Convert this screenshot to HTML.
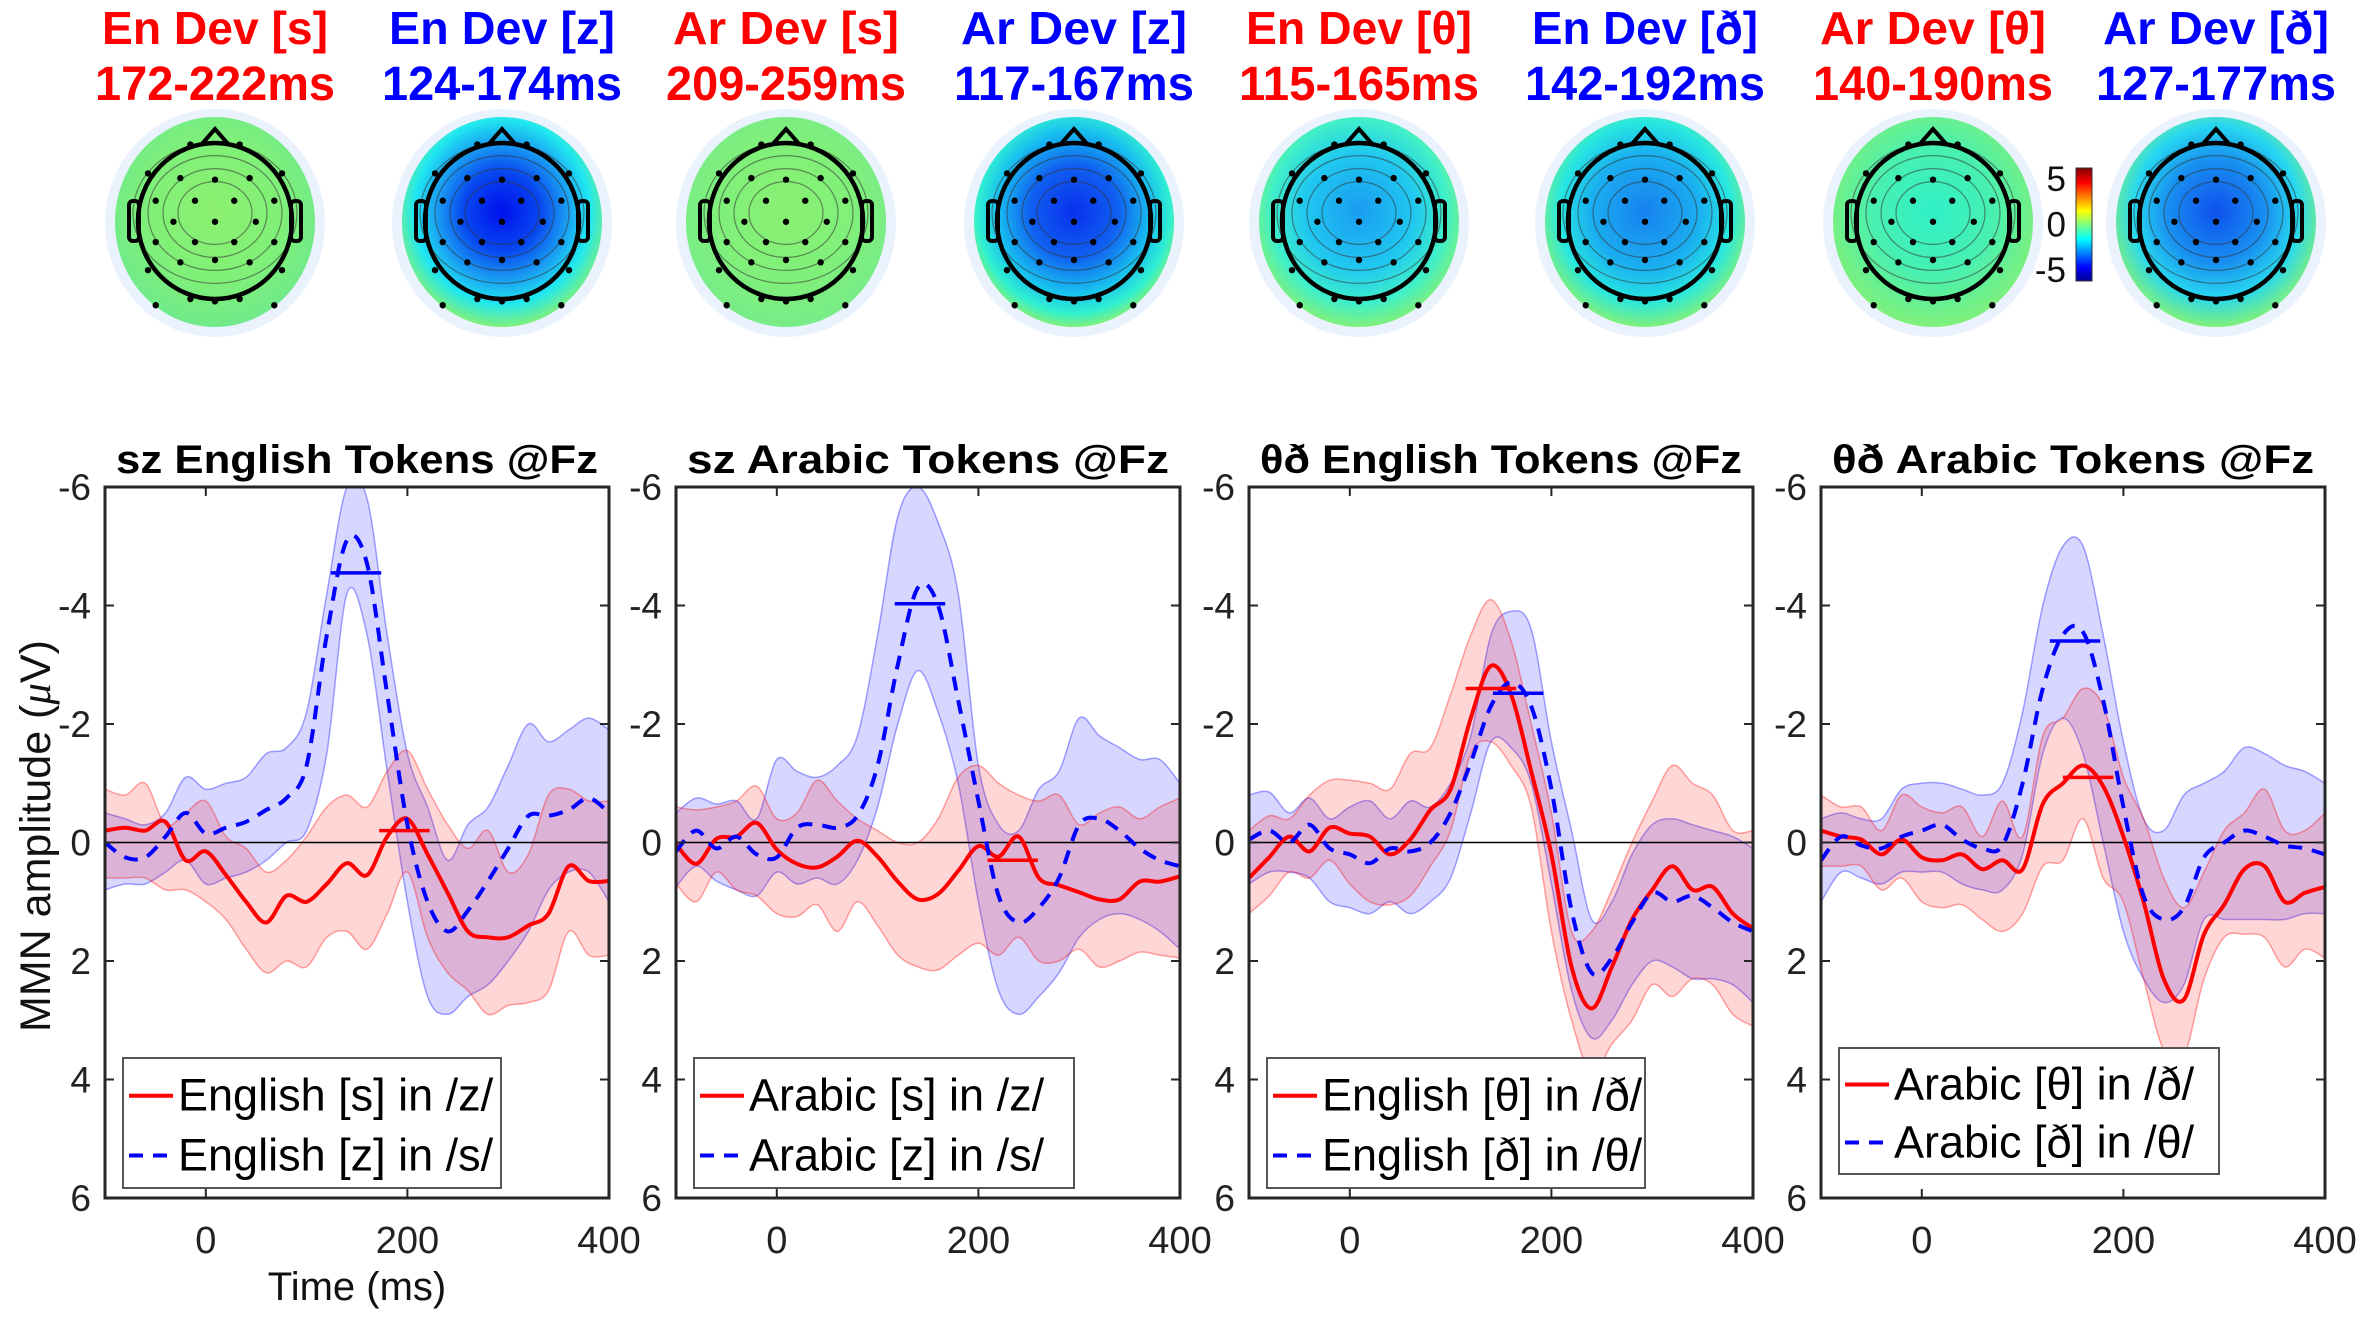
<!DOCTYPE html>
<html><head><meta charset="utf-8"><style>
html,body{margin:0;padding:0;background:#fff;}
svg{display:block;font-family:"Liberation Sans",Arial,sans-serif;}
</style></head><body>
<svg id="fig" width="2362" height="1320" viewBox="0 0 2362 1320" xmlns="http://www.w3.org/2000/svg">
<defs id="defs"></defs>
<g id="topos"></g>
<g id="colorbar"></g>
<g id="panels"></g>
<text x="0" y="0" transform="translate(50,836) rotate(-90)" text-anchor="middle" font-size="43" fill="#111">MMN amplitude (<tspan font-style="italic" font-family="Liberation Serif">μ</tspan>V)</text>
<text x="357" y="1300" text-anchor="middle" font-size="40" fill="#111">Time (ms)</text>
</svg>
<script>
const times=[-100,-80,-60,-40,-20,0,20,40,60,80,100,120,140,160,180,200,220,240,260,280,300,320,340,360,380,400];
// Panel 1: sz English
const p1RedMean=[-0.2,-0.25,-0.2,-0.35,0.3,0.15,0.55,1.0,1.35,0.9,1.0,0.7,0.35,0.55,-0.1,-0.4,0.2,0.85,1.5,1.6,1.6,1.4,1.2,0.4,0.65,0.65];
const p1RedUp=[-0.9,-0.8,-1.0,-0.3,-0.5,-0.7,-0.1,0.1,0.5,0.3,-0.1,-0.6,-0.8,-0.6,-1.2,-1.55,-0.9,-0.3,0.1,-0.2,0.5,0.2,-0.8,-0.9,-0.7,-0.7];
const p1RedLo=[0.6,0.6,0.6,0.8,0.8,1.0,1.3,1.8,2.2,2.0,2.1,1.6,1.5,1.8,1.2,0.5,1.6,2.2,2.5,2.9,2.75,2.7,2.5,1.5,1.9,1.9];
const p1BlueMean=[0.0,0.25,0.25,-0.1,-0.5,-0.15,-0.25,-0.35,-0.55,-0.75,-1.3,-3.5,-5.1,-4.7,-2.5,-0.3,1.0,1.5,1.15,0.65,0.1,-0.45,-0.45,-0.55,-0.75,-0.5];
const p1BlueUp=[-0.5,-0.4,-0.3,-0.5,-1.1,-0.9,-1.0,-1.1,-1.5,-1.6,-2.2,-4.2,-6.0,-5.8,-3.5,-1.5,-0.6,0.3,-0.3,-0.6,-1.3,-2.0,-1.7,-1.9,-2.1,-1.9];
const p1BlueLo=[0.8,0.7,0.7,0.5,0.3,0.7,0.6,0.5,0.3,0.0,-0.2,-1.5,-4.2,-3.5,-1.2,1.0,2.6,2.9,2.6,2.4,2.0,1.5,0.8,0.5,0.5,1.0];
// Panel 2: sz Arabic
const p2RedMean=[0.03,0.36,-0.06,-0.1,-0.33,0.12,0.36,0.42,0.24,-0.03,0.24,0.66,0.96,0.87,0.48,0.06,0.24,-0.1,0.6,0.72,0.84,0.96,0.96,0.66,0.66,0.57];
const p2RedUp=[-0.6,-0.55,-0.6,-0.7,-0.95,-0.4,-0.5,-1.05,-0.7,-0.4,-0.2,0.0,0.0,-0.4,-1.1,-1.3,-1.0,-0.8,-0.7,-0.8,-0.3,-0.5,-0.6,-0.4,-0.6,-0.75];
const p2RedLo=[0.7,1.0,0.5,0.8,0.9,1.2,1.25,1.05,1.5,1.0,1.4,1.9,2.1,2.15,1.9,1.7,1.9,1.6,2.0,2.0,1.8,2.1,2.0,1.85,1.9,1.95];
const p2BlueMean=[0.15,-0.2,0.1,-0.1,0.2,0.25,-0.25,-0.3,-0.25,-0.45,-1.3,-3.0,-4.3,-4.0,-2.4,-0.7,0.9,1.35,1.1,0.6,-0.3,-0.4,-0.2,0.1,0.3,0.4];
const p2BlueUp=[-0.5,-0.75,-0.65,-0.7,-0.4,-1.4,-1.2,-1.1,-1.3,-1.8,-3.5,-5.5,-6.0,-5.4,-4.2,-1.3,-0.3,-0.2,-0.9,-1.2,-2.1,-1.8,-1.6,-1.4,-1.4,-1.0];
const p2BlueLo=[0.75,0.4,0.65,0.8,0.9,0.5,0.7,0.6,0.7,0.3,-0.6,-2.0,-2.9,-2.2,-1.0,1.0,2.5,2.9,2.6,2.2,1.6,1.3,1.2,1.3,1.5,1.8];
// Panel 3: theta/eth English
const p3RedMean=[0.6,0.25,-0.1,0.15,-0.25,-0.15,-0.1,0.2,-0.05,-0.55,-0.9,-2.1,-2.98,-2.5,-1.2,0.2,2.1,2.8,2.1,1.3,0.8,0.4,0.8,0.75,1.2,1.45];
const p3RedUp=[-0.2,-0.45,-0.4,-0.8,-1.05,-1.05,-1.0,-0.9,-1.5,-1.6,-2.5,-3.5,-4.1,-3.4,-2.0,-0.5,1.5,1.5,0.8,0.0,-0.7,-1.3,-1.0,-0.8,-0.2,-0.2];
const p3RedLo=[1.2,0.9,0.5,0.6,0.3,0.7,1.0,1.05,0.9,0.4,-0.2,-1.5,-1.7,-1.3,-0.6,1.5,3.0,3.9,3.4,3.0,2.4,2.6,2.3,2.4,2.9,3.1];
const p3BlueMean=[-0.05,-0.2,0.0,-0.3,0.1,0.2,0.35,0.1,0.15,0.0,-0.5,-1.35,-2.3,-2.7,-2.3,-0.9,1.15,2.2,1.95,1.35,0.85,1.0,0.9,1.1,1.35,1.5];
const p3BlueUp=[-0.8,-0.85,-0.5,-0.75,-0.4,-0.6,-0.7,-0.4,-0.7,-0.6,-1.0,-1.8,-3.5,-3.9,-3.6,-1.7,-0.2,1.3,1.0,0.2,-0.3,-0.4,-0.3,-0.2,-0.1,0.1];
const p3BlueLo=[0.7,0.5,0.5,0.6,1.0,1.1,1.2,1.0,1.2,1.0,0.6,-0.5,-1.7,-1.6,-1.0,0.7,2.5,3.3,3.0,2.4,2.0,2.1,2.3,2.3,2.4,2.7];
// Panel 4: theta/eth Arabic
const p4RedMean=[-0.2,-0.1,-0.05,0.2,-0.05,0.25,0.3,0.2,0.45,0.3,0.45,-0.65,-1.0,-1.3,-0.95,-0.1,1.0,2.3,2.65,1.55,1.05,0.45,0.4,1.0,0.85,0.75];
const p4RedUp=[-0.8,-0.6,-0.6,-0.2,-0.8,-0.6,-0.5,-0.6,-0.1,-0.7,-0.1,-1.8,-2.1,-2.6,-2.3,-1.1,-0.4,0.6,1.1,0.5,-0.2,-0.5,-0.9,-0.2,-0.2,-0.5];
const p4RedLo=[0.4,0.4,0.4,0.8,0.6,1.0,1.1,1.05,1.3,1.5,1.2,0.4,0.3,-0.4,0.6,1.0,2.3,3.5,3.6,2.3,1.6,1.55,1.6,2.1,1.8,1.95];
const p4BlueMean=[0.3,-0.1,0.05,0.1,-0.1,-0.2,-0.3,-0.05,0.1,0.05,-1.0,-2.6,-3.5,-3.55,-2.4,-0.6,0.9,1.3,1.1,0.25,0.0,-0.2,-0.1,0.05,0.1,0.2];
const p4BlueUp=[-0.4,-0.5,-0.4,-0.4,-0.9,-1.0,-1.0,-0.9,-0.8,-1.0,-2.2,-4.0,-5.0,-5.0,-3.5,-1.7,-0.4,-0.2,-0.8,-1.0,-1.2,-1.6,-1.5,-1.3,-1.2,-1.0];
const p4BlueLo=[1.0,0.5,0.6,0.7,0.5,0.5,0.5,0.7,0.8,0.8,0.2,-1.5,-2.1,-1.5,0.0,1.5,2.3,2.7,2.4,1.3,1.3,1.3,1.3,1.3,1.2,1.2];
// peak-window markers [start, end, value]
const redMarkers=[[172,222,-0.2],[209,259,0.3],[115,165,-2.6],[140,190,-1.1]];
const blueMarkers=[[124,174,-4.55],[117,167,-4.03],[142,192,-2.52],[127,177,-3.4]];
const panelTitles=["sz English Tokens @Fz","sz Arabic Tokens @Fz","θð English Tokens @Fz","θð Arabic Tokens @Fz"];
const legendRed=["English [s] in /z/","Arabic [s] in /z/","English [θ] in /ð/","Arabic [θ] in /ð/"];
const legendBlue=["English [z] in /s/","Arabic [z] in /s/","English [ð] in /θ/","Arabic [ð] in /θ/"];
const yTicks=[-6,-4,-2,0,2,4,6];
const xTicks=[0,200,400];
const topoLine1=["En Dev [s]","En Dev [z]","Ar Dev [s]","Ar Dev [z]","En Dev [θ]","En Dev [ð]","Ar Dev [θ]","Ar Dev [ð]"];
const topoLine2=["172-222ms","124-174ms","209-259ms","117-167ms","115-165ms","142-192ms","140-190ms","127-177ms"];
const topoColors=["red","blue","red","blue","red","blue","red","blue"];
const colorbarTicks=[5,0,-5];

const NS="http://www.w3.org/2000/svg";
function mk(tag,attrs,parent){const e=document.createElementNS(NS,tag);for(const k in attrs)e.setAttribute(k,attrs[k]);if(parent)parent.appendChild(e);return e;}
const svg=document.getElementById('fig');
const defs=document.getElementById('defs');

// ---- topomaps ----
const topoCX=[215,502,786,1074,1359,1645,1933,2216];
const grads=[
 [["0","#8cf070"],["0.6","#80f078"],["1","#70ea8a"]],
 [["0","#0010ee"],["0.35","#0848f0"],["0.6","#1aa0f2"],["0.8","#20e8f0"],["1","#80f07a"]],
 [["0","#8af072"],["0.6","#80f07a"],["1","#78ec88"]],
 [["0","#0a30ee"],["0.4","#1060f0"],["0.7","#18c0f0"],["0.88","#30f0d0"],["1","#80f07a"]],
 [["0","#1a9cf2"],["0.5","#20c8f0"],["0.8","#40f0c8"],["1","#80f07a"]],
 [["0","#1880f0"],["0.5","#1ab0f0"],["0.78","#28e8e0"],["1","#80f07a"]],
 [["0","#30f0c8"],["0.55","#48f0b0"],["1","#80f07a"]],
 [["0","#1050ee"],["0.45","#1890f0"],["0.75","#28d8f0"],["1","#80f07a"]]
];
const elec=[[-0.32,-0.98],[0.32,-0.98],[-0.87,-0.61],[-0.45,-0.55],[0,-0.53],[0.45,-0.55],[0.87,-0.61],[-0.77,-0.26],[-0.26,-0.26],[0.25,-0.26],[0.77,-0.26],[-0.54,0.01],[0,0.01],[0.53,0.01],[-0.77,0.27],[-0.26,0.27],[0.25,0.27],[0.77,0.27],[-0.45,0.53],[0,0.5],[0.45,0.53],[-0.87,0.63],[0.87,0.63],[-0.32,1.0],[0,1.03],[0.32,1.0],[-0.77,1.08],[0.77,1.08]];
const topos=document.getElementById('topos');
topoCX.forEach((cx,i)=>{
  const cy=221;
  const g=mk('g',{},topos);
  
  
  const gr=mk('radialGradient',{id:'tg'+i,cx:'0.5',cy:'0.45',r:'0.55'},defs);
  grads[i].forEach(s=>mk('stop',{offset:s[0],'stop-color':s[1]},gr));
  mk('ellipse',{cx:cx,cy:cy+2,rx:110,ry:114,fill:'#eaf2fe'},g);
  mk('ellipse',{cx:cx,cy:cy+1,rx:100,ry:105,fill:'url(#tg'+i+')'},g);
  [0.45,0.7,0.95,1.2].forEach(k=>mk('ellipse',{cx:cx,cy:cy-8,rx:60*k+10,ry:52*k+8,fill:'none',stroke:'#333','stroke-width':1.2,opacity:0.55},g));
  mk('path',{d:`M${cx-14},${cy-76} L${cx},${cy-92} L${cx+14},${cy-76}`,fill:'none',stroke:'#000','stroke-width':4},g);
  mk('rect',{x:cx-86,y:cy-20,width:10,height:40,rx:4,fill:'none',stroke:'#000','stroke-width':4},g);
  mk('rect',{x:cx+76,y:cy-20,width:10,height:40,rx:4,fill:'none',stroke:'#000','stroke-width':4},g);
  mk('ellipse',{cx:cx,cy:cy,rx:77,ry:78,fill:'none',stroke:'#000','stroke-width':4.5},g);
  elec.forEach(p=>mk('circle',{cx:cx+p[0]*77,cy:cy+p[1]*78,r:3.2,fill:'#000'},g));
  const col=topoColors[i]==='red'?'#ff0000':'#0000ff';
  const t1=mk('text',{x:cx,y:44,'text-anchor':'middle','font-size':46,'font-weight':'bold',fill:col,textLength:226,lengthAdjust:'spacingAndGlyphs'},g);
  t1.textContent=topoLine1[i];
  
  
  const t2=mk('text',{x:cx,y:100,'text-anchor':'middle','font-size':48,'font-weight':'bold',fill:col,textLength:240,lengthAdjust:'spacingAndGlyphs'},g);
  t2.textContent=topoLine2[i];
  
  
});
// colorbar
const cb=document.getElementById('colorbar');
const cbg=mk('linearGradient',{id:'cbg',x1:'0',y1:'1',x2:'0',y2:'0'},defs);
[["0","#00008f"],["0.12","#0000ff"],["0.37","#00ffff"],["0.5","#7fff7f"],["0.62","#ffff00"],["0.87","#ff0000"],["1","#800000"]].forEach(s=>mk('stop',{offset:s[0],'stop-color':s[1]},cbg));
mk('rect',{x:2076,y:168,width:16,height:113,fill:'url(#cbg)',stroke:'#333','stroke-width':1},cb);
colorbarTicks.forEach(v=>{
  const y=224.5-v*(113/2/6.2);
  const t=mk('text',{x:2066,y:y+12,'text-anchor':'end','font-size':35,fill:'#111'},cb);
  t.textContent=String(v);
  
  
});

// ---- ERP panels ----
const panelL=[105,676,1249,1821], W=504, T=487, H=711;
const panelData=[
 [p1RedMean,p1RedUp,p1RedLo,p1BlueMean,p1BlueUp,p1BlueLo],
 [p2RedMean,p2RedUp,p2RedLo,p2BlueMean,p2BlueUp,p2BlueLo],
 [p3RedMean,p3RedUp,p3RedLo,p3BlueMean,p3BlueUp,p3BlueLo],
 [p4RedMean,p4RedUp,p4RedLo,p4BlueMean,p4BlueUp,p4BlueLo]];
function smooth(pts){
  let d=`M${pts[0][0].toFixed(1)},${pts[0][1].toFixed(1)}`;
  for(let i=0;i<pts.length-1;i++){
    const p0=pts[Math.max(0,i-1)],p1=pts[i],p2=pts[i+1],p3=pts[Math.min(pts.length-1,i+2)];
    const c1=[p1[0]+(p2[0]-p0[0])/6,p1[1]+(p2[1]-p0[1])/6];
    const c2=[p2[0]-(p3[0]-p1[0])/6,p2[1]-(p3[1]-p1[1])/6];
    d+=` C${c1[0].toFixed(1)},${c1[1].toFixed(1)} ${c2[0].toFixed(1)},${c2[1].toFixed(1)} ${p2[0].toFixed(1)},${p2[1].toFixed(1)}`;
  }
  return d;
}
function smoothCont(pts){return smooth(pts).replace(/^M/,'L');}
const panels=document.getElementById('panels');
panelL.forEach((L,pi)=>{
  const xs=t=>L+(t+100)/500*W;
  const ys=v=>T+(v+6)/12*H;
  const g=mk('g',{},panels);
  
  
  const cid='clip'+pi;
  const cp=mk('clipPath',{id:cid},defs);
  mk('rect',{x:L,y:T,width:W,height:H},cp);
  const plot=mk('g',{'clip-path':`url(#${cid})`},g);
  const [rm,ru,rl,bm,bu,bl]=panelData[pi];
  function band(up,lo,col,name){
    const top=times.map((t,i)=>[xs(t),ys(up[i])]);
    const bot=times.map((t,i)=>[xs(t),ys(lo[i])]).reverse();
    const p=mk('path',{d:smooth(top)+' '+smoothCont(bot)+' Z',fill:col,'fill-opacity':0.16,stroke:col,'stroke-opacity':0.35,'stroke-width':1.5},plot);
    
    
  }
  band(bu,bl,'#0000ff','blue-ci-band');
  band(ru,rl,'#ff0000','red-ci-band');
  const z=mk('line',{x1:L,x2:L+W,y1:ys(0),y2:ys(0),stroke:'#000','stroke-width':1.5},plot);
  
  
  const rl_=mk('path',{d:smooth(times.map((t,i)=>[xs(t),ys(rm[i])])),fill:'none',stroke:'#ff0000','stroke-width':4},plot);
  
  
  const bl_=mk('path',{d:smooth(times.map((t,i)=>[xs(t),ys(bm[i])])),fill:'none',stroke:'#0000ff','stroke-width':4,'stroke-dasharray':'14 10'},plot);
  
  
  const bmk=blueMarkers[pi], rmk=redMarkers[pi];
  const m1=mk('line',{x1:xs(bmk[0]),x2:xs(bmk[1]),y1:ys(bmk[2]),y2:ys(bmk[2]),stroke:'#0000ff','stroke-width':3.5},plot);
  
  
  const m2=mk('line',{x1:xs(rmk[0]),x2:xs(rmk[1]),y1:ys(rmk[2]),y2:ys(rmk[2]),stroke:'#ff0000','stroke-width':3.5},plot);
  
  
  // ticks
  yTicks.forEach(v=>{
    mk('line',{x1:L,x2:L+9,y1:ys(v),y2:ys(v),stroke:'#262626','stroke-width':2},g);
    mk('line',{x1:L+W-9,x2:L+W,y1:ys(v),y2:ys(v),stroke:'#262626','stroke-width':2},g);
    const t=mk('text',{x:L-14,y:ys(v)+13,'text-anchor':'end','font-size':37,fill:'#222'},g);
    t.textContent=String(v);
    
    
  });
  xTicks.forEach(v=>{
    mk('line',{x1:xs(v),x2:xs(v),y1:T,y2:T+9,stroke:'#262626','stroke-width':2},g);
    mk('line',{x1:xs(v),x2:xs(v),y1:T+H-9,y2:T+H,stroke:'#262626','stroke-width':2},g);
    const t=mk('text',{x:xs(v),y:T+H+55,'text-anchor':'middle','font-size':38,fill:'#222'},g);
    t.textContent=String(v);
    
    
  });
  const box=mk('rect',{x:L,y:T,width:W,height:H,fill:'none',stroke:'#262626','stroke-width':3},g);
  
  
  const ti=mk('text',{x:L+W/2,y:T-14,'text-anchor':'middle','font-size':40,'font-weight':'bold',fill:'#000',textLength:482,lengthAdjust:'spacingAndGlyphs'},g);
  ti.textContent=panelTitles[pi];
  
  
  // legend
  const lx=L+18, ly=pi===3?1048:1058, lh=pi===3?126:130, lw=pi===0||pi===2?378:380;
  const lg=mk('g',{},g);
  
  
  mk('rect',{x:lx,y:ly,width:lw,height:lh,fill:'#fff',stroke:'#555','stroke-width':2},lg);
  const r1=ly+lh*0.29, r2=ly+lh*0.75;
  mk('line',{x1:lx+6,x2:lx+50,y1:r1,y2:r1,stroke:'#ff0000','stroke-width':4},lg);
  mk('line',{x1:lx+6,x2:lx+50,y1:r2,y2:r2,stroke:'#0000ff','stroke-width':4,'stroke-dasharray':'14 10'},lg);
  const e1=mk('text',{x:lx+55,y:r1+15,'font-size':45,fill:'#000'},lg);
  e1.textContent=legendRed[pi];
  
  
  const e2=mk('text',{x:lx+55,y:r2+15,'font-size':45,fill:'#000'},lg);
  e2.textContent=legendBlue[pi];
  
  
});
</script>
</body></html>
